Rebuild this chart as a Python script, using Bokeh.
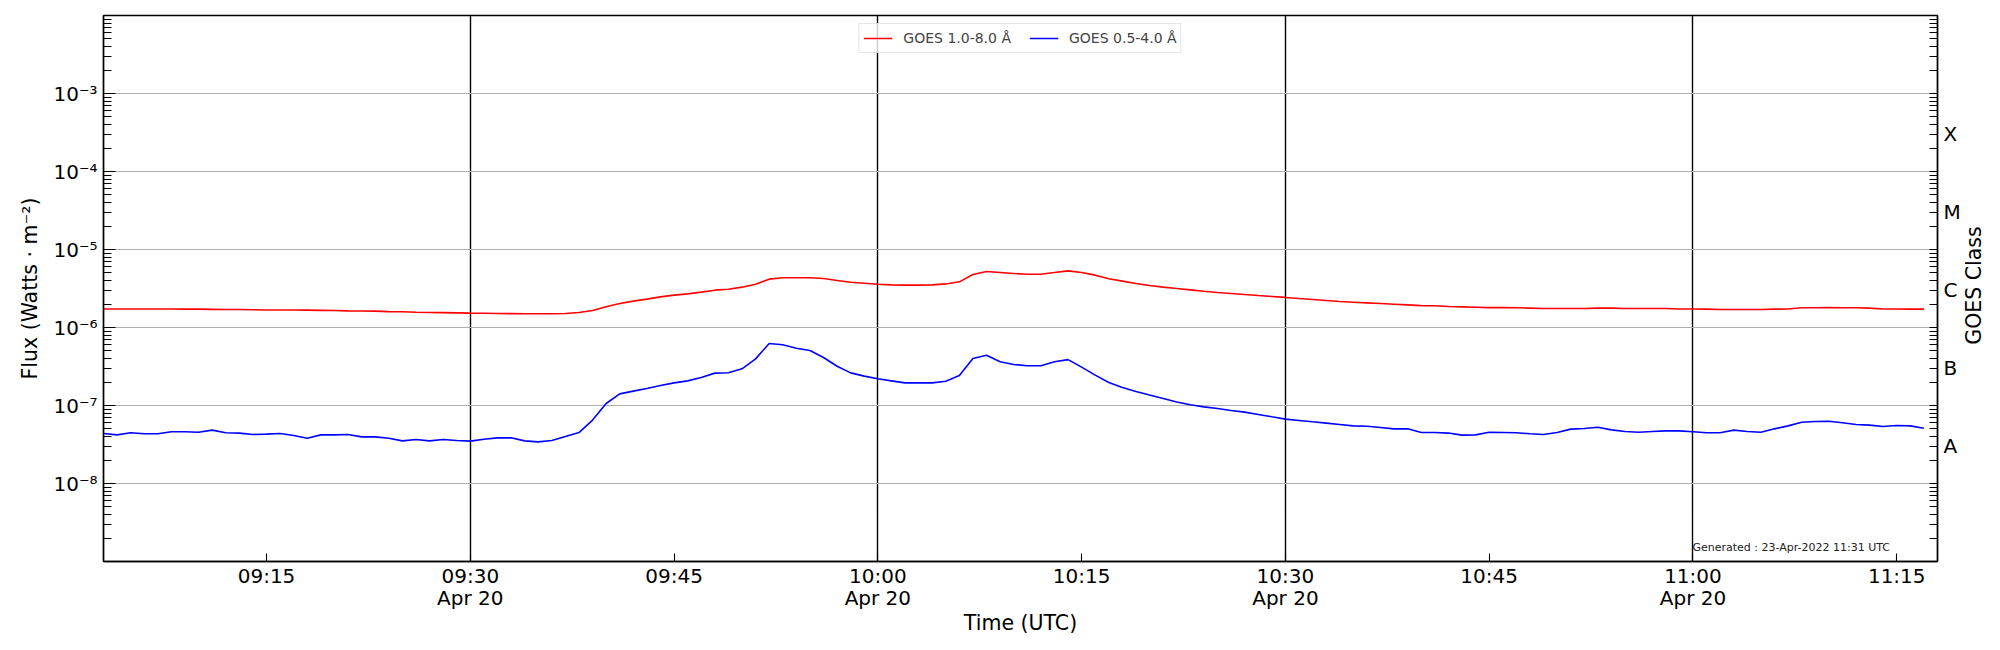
import math
import numpy as np
import pandas as pd
from bokeh.plotting import figure
from bokeh.layouts import row
from bokeh.models import Range1d, LogAxis, FixedTicker, Label
from bokeh.embed import file_html
from bokeh.resources import INLINE

# ---------------- data ----------------
start_time = "2022-04-20 09:03"          # first 1-minute sample
# GOES 1.0-8.0 A flux, in units of 1e-6 W m^-2 (09:03 ... 11:17, one per minute)
xrsb_e6 = [
    1.73, 1.73, 1.73, 1.73, 1.73, 1.725, 1.72, 1.72, 1.71, 1.70,
    1.70, 1.69, 1.68, 1.68, 1.675, 1.67, 1.66, 1.65, 1.635, 1.627,
    1.62, 1.60, 1.59, 1.57, 1.56, 1.55, 1.54, 1.527, 1.52, 1.51,
    1.505, 1.50, 1.50, 1.50, 1.51, 1.56, 1.65,
    1.84, 2.03, 2.18, 2.31, 2.47, 2.60, 2.70, 2.84, 3.01, 3.10,
    3.29, 3.59, 4.17, 4.34, 4.34, 4.34, 4.25, 4.01, 3.81, 3.70,
    3.59, 3.52, 3.49, 3.49, 3.52, 3.62, 3.85, 4.77, 5.22, 5.07,
    4.92, 4.82, 4.82, 5.07, 5.32,
    5.07, 4.69, 4.21, 3.93, 3.66, 3.45, 3.29, 3.16, 3.04, 2.92,
    2.81, 2.73, 2.65, 2.57, 2.50, 2.43, 2.35, 2.29, 2.22, 2.15,
    2.11, 2.07, 2.03, 1.99, 1.95, 1.91, 1.90, 1.86, 1.84, 1.82,
    1.80, 1.80, 1.79, 1.77, 1.75, 1.75,
    1.75, 1.75, 1.77, 1.77, 1.75, 1.75, 1.75, 1.75, 1.73, 1.73,
    1.72, 1.70, 1.70, 1.70, 1.70, 1.72, 1.73, 1.79, 1.79, 1.80,
    1.79, 1.79, 1.77, 1.73, 1.73, 1.72, 1.72,
]
# GOES 0.5-4.0 A flux, in units of 1e-8 W m^-2
xrsa_e8 = [
    4.38, 4.20, 4.47, 4.35, 4.35, 4.60, 4.60, 4.55, 4.83, 4.47,
    4.43, 4.25, 4.30, 4.38, 4.12, 3.81, 4.20, 4.20, 4.25, 3.96,
    3.96, 3.81, 3.52, 3.66, 3.52, 3.66, 3.56, 3.49, 3.70, 3.85,
    3.85, 3.52, 3.42, 3.56, 4.00, 4.50, 6.50,
    10.6, 14.1, 15.3, 16.5, 18.0, 19.5, 20.7, 22.8, 26.0, 26.3,
    29.5, 39.6, 62.3, 60.0, 54.3, 50.7, 41.2, 31.9, 26.2, 23.8,
    22.0, 20.7, 19.5, 19.5, 19.5, 20.5, 24.3, 40.0, 44.2, 36.3,
    33.6, 32.3, 32.3, 36.3, 38.7,
    31.0, 24.5, 19.7, 17.0, 15.1, 13.6, 12.3, 11.1, 10.2, 9.60,
    9.16, 8.63, 8.22, 7.67, 7.16, 6.69, 6.43, 6.18, 5.94, 5.71,
    5.48, 5.43, 5.22, 5.02, 5.02, 4.51, 4.51, 4.43, 4.17, 4.20,
    4.55, 4.51, 4.47, 4.35, 4.25, 4.50,
    4.98, 5.07, 5.27, 4.87, 4.64, 4.55, 4.64, 4.73, 4.73, 4.60,
    4.47, 4.47, 4.83, 4.64, 4.55, 5.02, 5.48, 6.10, 6.23, 6.29,
    6.00, 5.71, 5.60, 5.38, 5.53, 5.48, 5.12,
]
series_labels = ["GOES 1.0-8.0 Å", "GOES 0.5-4.0 Å"]
date = "2022-04-20"
x_start, x_end = "09:03", "11:18"
tick_times = ["09:15", "09:30", "09:45", "10:00", "10:15", "10:30", "10:45", "11:00", "11:15"]
tick_labels = ["09:15", "09:30\nApr 20", "09:45", "10:00\nApr 20", "10:15",
               "10:30\nApr 20", "10:45", "11:00\nApr 20", "11:15"]
vline_times = ["09:30", "10:00", "10:30", "11:00"]
y_decades = [-9, -8, -7, -6, -5, -4, -3, -2]
y_tick_labels = ["", "10⁻⁸", "10⁻⁷", "10⁻⁶", "10⁻⁵", "10⁻⁴", "10⁻³", ""]
class_decades = [-8, -7, -6, -5, -4]
class_labels = ["A", "B", "C", "M", "X"]
right_label = "GOES Class"
generated_text = "Generated : 23-Apr-2022 11:31 UTC"

# ---------------- build ----------------
FONT = "DejaVu Sans"
FW, FH = 1834, 546
TOP, LEFT, RIGHT, BOTTOM = 15, 103, 24, 78
H = TOP + FH + BOTTOM
xrsb = np.array(xrsb_e6) * 1e-6
xrsa = np.array(xrsa_e8) * 1e-8
times = pd.date_range(start_time, periods=len(xrsb), freq="1min")


def ms(hm):
    return float(pd.Timestamp(f"{date} {hm}").value / 1e6)


p = figure(x_axis_type="datetime", y_axis_type="log",
           frame_width=FW, frame_height=FH,
           min_border_left=LEFT, min_border_top=TOP, min_border_right=RIGHT, min_border_bottom=BOTTOM,
           x_range=Range1d(ms(x_start), ms(x_end)),
           y_range=Range1d(10.0 ** -9, 10.0 ** -2),
           output_backend="svg", toolbar_location=None)
p.background_fill_color = "white"
p.border_fill_color = "white"
p.outline_line_color = "black"
p.outline_line_width = 1.4

p.line(times, xrsb, line_color="#ff0000", line_width=1.6, legend_label=series_labels[0])
p.line(times, xrsa, line_color="#0000ff", line_width=1.6, legend_label=series_labels[1])

# y axis (left)
y_ticks = [10.0 ** e for e in y_decades]
y_minor = [k * 10.0 ** e for e in y_decades for k in range(2, 10)]
yax = p.yaxis[0]
yax.ticker = FixedTicker(ticks=y_ticks, minor_ticks=y_minor)
yax.major_label_overrides = {t: l for t, l in zip(y_ticks, y_tick_labels)}
yax.axis_label = "Flux (Watts · m⁻²)"
yax.major_tick_in = 12
yax.major_tick_out = 0
yax.minor_tick_in = 8
yax.minor_tick_out = 0

# x axis
x_ticks = [ms(t) for t in tick_times]
xax = p.xaxis[0]
xax.ticker = FixedTicker(ticks=x_ticks, minor_ticks=[])
xax.major_label_overrides = {t: l for t, l in zip(x_ticks, tick_labels)}
xax.axis_label = "Time (UTC)"
xax.major_tick_in = 8
xax.major_tick_out = 0
xax.minor_tick_in = 0
xax.minor_tick_out = 0

# right axis with GOES classes (labels sit at 3 x the lower bound of each class)
class_pos = [3 * 10.0 ** e for e in class_decades]
rax = LogAxis(ticker=FixedTicker(ticks=class_pos,
                                 minor_ticks=[k * 10.0 ** e for e in y_decades for k in range(1, 10)]),
              major_label_overrides={t: l for t, l in zip(class_pos, class_labels)})
rax.major_tick_in = 0
rax.major_tick_out = 0
rax.minor_tick_in = 8
rax.minor_tick_out = 0
p.add_layout(rax, "right")

for ax in [xax, yax, rax]:
    ax.axis_line_color = "black"
    ax.axis_line_width = 1.4
    ax.major_tick_line_color = "black"
    ax.minor_tick_line_color = "black"
    ax.major_tick_line_width = 1.1
    ax.minor_tick_line_width = 1.1
    ax.major_label_text_font = FONT
    ax.major_label_text_font_size = "20px"
    ax.major_label_text_color = "black"
    ax.axis_label_text_font = FONT
    ax.axis_label_text_font_size = "20.5px"
    ax.axis_label_text_font_style = "normal"
    ax.axis_label_text_color = "black"
yax.major_label_standoff = 6
yax.axis_label_standoff = 8
xax.major_label_standoff = 2
xax.major_label_text_line_height = 0.92
xax.axis_label_standoff = -2
rax.major_label_standoff = 6

# grids
p.ygrid.grid_line_color = "#b0b0b0"
p.ygrid.grid_line_width = 1.2
p.xgrid.ticker = FixedTicker(ticks=[ms(t) for t in vline_times], minor_ticks=[])
p.xgrid.grid_line_color = "black"
p.xgrid.grid_line_width = 1.4

# legend
lg = p.legend[0]
lg.orientation = "horizontal"
lg.location = "top_center"
lg.margin = 8
lg.padding = 4
lg.spacing = 18
lg.glyph_width = 29
lg.glyph_height = 20
lg.label_height = 20
lg.label_standoff = 11
lg.label_text_font = FONT
lg.label_text_font_size = "14px"
lg.border_line_color = "#cccccc"
lg.border_line_width = 1
lg.background_fill_alpha = 0.8

# generated stamp
p.add_layout(Label(x=ms("11:14:30"), y=1.5e-9, text=generated_text,
                   text_align="right", text_baseline="alphabetic",
                   text_font=FONT, text_font_size="11px", text_color="#222222"))

# right-hand title strip ("GOES Class", reading bottom to top)
SW = 36
side = figure(width=SW, height=H, min_border=0,
              x_range=Range1d(0, SW), y_range=Range1d(0, H),
              x_axis_location=None, y_axis_location=None,
              output_backend="svg", toolbar_location=None)
side.outline_line_color = None
side.grid.visible = False
side.background_fill_color = "white"
side.border_fill_color = "white"
side.add_layout(Label(x=10.5, y=H - (TOP + FH / 2) - 28, text=right_label, angle=math.pi / 2,
                      text_align="center", text_baseline="middle",
                      text_font=FONT, text_font_size="20.5px", text_color="black"))

layout = row(p, side, spacing=0)
open("out.html", "w").write(file_html(layout, INLINE))
